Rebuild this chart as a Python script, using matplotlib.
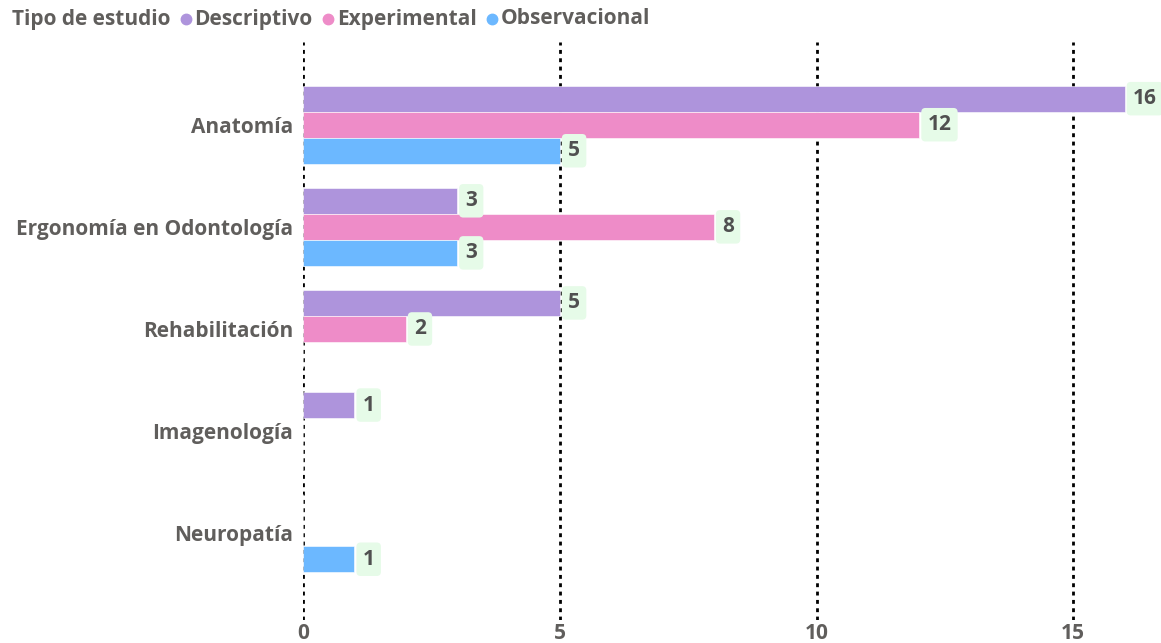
import numpy as np
import matplotlib.pyplot as plt

# Tipo de estudio por área
categorias = ['Anatomía', 'Ergonomía en Odontología', 'Rehabilitación', 'Imagenología', 'Neuropatía']
series = ['Descriptivo', 'Experimental', 'Observacional']
descriptivo = [16, 3, 5, 1, 0]
experimental = [12, 8, 2, 0, 0]
observacional = [5, 3, 0, 0, 1]
colores = ['#AE94DC', '#EE8CC8', '#6CB8FF']

gris = '#605E5C'
fs = 15
plt.rcParams['font.family'] = ['Open Sans', 'DejaVu Sans']

fig = plt.figure(figsize=(11.61, 6.43), dpi=100)
ax = fig.add_axes([303 / 1161, 23 / 643, 858 / 1161, 578 / 643])

y = np.arange(len(categorias))
h = 0.255
valores = [descriptivo, experimental, observacional]
for i, (vals, col) in enumerate(zip(valores, colores)):
    pos = y + (i - 1) * h
    ax.barh(pos, vals, height=h, color=col, edgecolor='white', linewidth=0.4, zorder=3)
    for p, v in zip(pos, vals):
        if v == 0:
            continue
        ax.annotate(str(v), (v, p), xytext=(6, 0), textcoords='offset points',
                    ha='left', va='center', fontsize=fs, fontweight='bold', color='#505050',
                    bbox=dict(boxstyle='round,pad=0.3,rounding_size=0.2', fc='#E6FBE8', ec='none'),
                    zorder=4)

ax.set_xlim(0, 858 / 51.35)
ax.set_ylim(4.85, -0.81)
ax.set_yticks(y)
ax.set_yticklabels(categorias, fontsize=fs, fontweight='bold', color=gris)
ax.set_xticks([0, 5, 10, 15])
ax.set_xticklabels(['0', '5', '10', '15'], fontsize=fs, fontweight='bold', color=gris)
ax.tick_params(length=0, pad=2)
ax.tick_params(axis='y', pad=7)
for s in ax.spines.values():
    s.set_visible(False)
for xv in [0, 5, 10, 15]:
    ax.axvline(xv, color='black', lw=2, linestyle=(0, (1.4, 1.6)), zorder=1)

# leyenda en la parte superior
fig.canvas.draw()
r = fig.canvas.get_renderer()
x0 = 12 / 1161
yl = 1 - 19 / 643
t = fig.text(x0, yl, 'Tipo de estudio', fontsize=fs, fontweight='bold', color=gris, va='center')
bb = t.get_window_extent(r)
for nombre, col in zip(series, colores):
    cx = bb.x1 + 15
    fig.add_artist(plt.Line2D([cx / 1161], [yl], marker='o', markersize=7.5,
                              color=col, transform=fig.transFigure, linestyle='none'))
    t = fig.text((cx + 9) / 1161, yl, nombre, fontsize=fs, fontweight='bold', color=gris, va='center')
    bb = t.get_window_extent(r)

fig.savefig('out.png', dpi=100)
